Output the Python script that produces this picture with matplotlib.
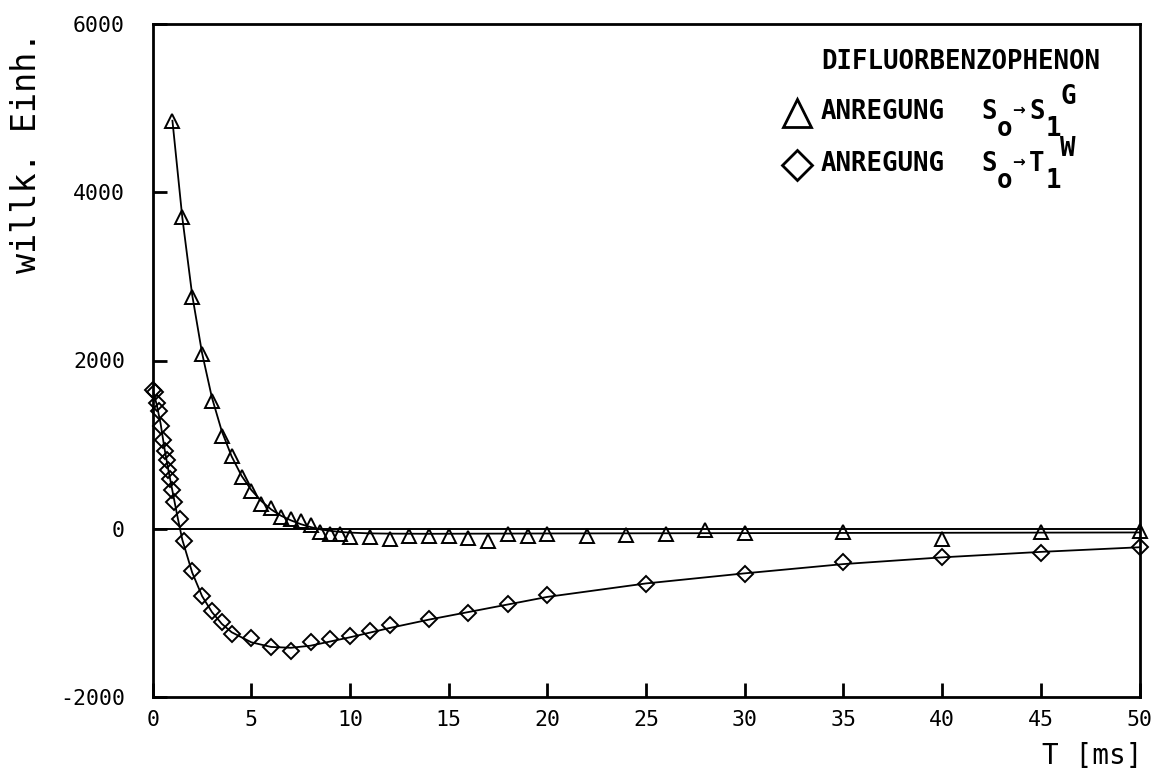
import matplotlib
matplotlib.use("Agg")
import matplotlib.pyplot as plt

# ---------------- data ----------------
# Triangles: excitation S0 -> S1 (G)
t_tri = [1.0, 1.5, 2.0, 2.5, 3.0, 3.5, 4.0, 4.5, 5.0, 5.5, 6.0, 6.5, 7.0, 7.5,
         8.0, 8.5, 9.0, 9.5, 10, 11, 12, 13, 14, 15, 16, 17, 18, 19, 20,
         22, 24, 26, 28, 30, 35, 40, 45, 50]
y_tri = [4850, 3710, 2760, 2075, 1520, 1100, 865, 615, 445, 295, 245, 140,
         110, 90, 50, -40, -65, -65, -100, -100, -125, -86, -86, -86, -105,
         -145, -65, -86, -65, -90, -75, -65, -18, -54, -38, -117, -38, -26]

# fitted curve for triangles
t_tri_fit = [1.0, 1.5, 2.0, 2.5, 3.0, 3.5, 4.0, 4.5, 5.0, 5.5, 6.0, 6.5, 7.0,
             7.5, 8.0, 8.5, 9.0, 9.5, 10, 11, 12, 14, 17, 20, 25, 30, 35, 40,
             45, 50]
y_tri_fit = [4850, 3700, 2780, 2090, 1560, 1160, 860, 630, 460, 330, 230, 155,
             100, 55, 20, -8, -25, -38, -46, -55, -58, -60, -58, -56, -54, -52,
             -50, -48, -46, -44]

# Diamonds: excitation S0 -> T1 (W)
t_dia = [0.0, 0.1, 0.2, 0.3, 0.4, 0.5, 0.6, 0.7, 0.8, 0.9, 1.0, 1.1, 1.4, 1.6,
         2.0, 2.5, 3.0, 3.5, 4.0, 5, 6, 7, 8, 9, 10, 11, 12, 14, 16, 18, 20,
         25, 30, 35, 40, 45, 50]
y_dia = [1650, 1620, 1500, 1400, 1220, 1050, 920, 820, 700, 590, 460, 320,
         110, -150, -500, -800, -980, -1110, -1250, -1300, -1410, -1450,
         -1350, -1310, -1280, -1210, -1140, -1070, -1000, -900, -790, -660,
         -540, -390, -340, -285, -220]

# fitted curve for diamonds
t_dia_fit = [0.0, 0.2, 0.4, 0.6, 0.8, 1.0, 1.25, 1.5, 2.0, 2.5, 3.0, 3.5, 4.0,
             5, 6, 7, 8, 9, 10, 12, 14, 16, 18, 20, 25, 30, 35, 40, 45, 50]
y_dia_fit = [1650, 1480, 1250, 950, 690, 450, 150, -130, -520, -800, -990,
             -1130, -1230, -1350, -1405, -1415, -1390, -1340, -1290, -1180,
             -1080, -990, -900, -810, -650, -530, -420, -340, -275, -220]

x_ticks = [0, 5, 10, 15, 20, 25, 30, 35, 40, 45, 50]
y_ticks = [-2000, 0, 2000, 4000, 6000]

W, H = 1159, 773
MONO = "DejaVu Sans Mono"

fig = plt.figure(figsize=(W / 100, H / 100), dpi=100)
fig.patch.set_facecolor("white")
ax = fig.add_axes([152.7 / W, 1 - 697 / H, (1139.5 - 152.7) / W, (697 - 24) / H])

ax.set_xlim(0, 50)
ax.set_ylim(-2000, 6000)

ax.axhline(0, color="black", lw=1.4, zorder=1)

ax.plot(t_tri_fit, y_tri_fit, color="black", lw=1.3, zorder=2)
ax.plot(t_dia_fit, y_dia_fit, color="black", lw=1.3, zorder=2)

ax.plot(t_tri, y_tri, linestyle="none", marker="^", ms=9.5, mfc="none",
        mec="black", mew=1.4, zorder=3, clip_on=False)
ax.plot(t_dia, y_dia, linestyle="none", marker="D", ms=8.5, mfc="none",
        mec="black", mew=1.4, zorder=3, clip_on=False)

for s in ax.spines.values():
    s.set_linewidth(2.0)

ax.set_xticks(x_ticks)
ax.set_yticks(y_ticks)
ax.set_xticklabels([str(v) for v in x_ticks], fontfamily=MONO, fontsize=15.5)
ax.set_yticklabels([str(v) for v in y_ticks], fontfamily=MONO, fontsize=15.5)
ax.tick_params(which="major", direction="in", length=10, width=2.0,
               top=False, right=False, color="black", pad=9, zorder=5)
ax.tick_params(axis="y", pad=20)


def ptext(x, y, s, **kw):
    fig.text(x / W, 1 - y / H, s, **kw)


ptext(27, 152, "willk. Einh.", rotation=90, ha="center", va="center",
      fontfamily=MONO, fontsize=24)
ptext(1092, 756, "T [ms]", ha="center", va="center", fontfamily=MONO,
      fontsize=20)

# legend
lf = dict(fontfamily=MONO, fontsize=18.5, fontweight="bold", va="center")
ptext(821, 62, "DIFLUORBENZOPHENON", ha="left", **lf)
for yy, s2, sup in [(112, "S", "G"), (164, "T", "W")]:
    ptext(821, yy, "ANREGUNG", ha="left", **lf)
    ptext(981, yy, "S", ha="left", **lf)
    ptext(997, yy + 17, "o", ha="left", **lf)
    ptext(1012, yy - 2, "\u2192", ha="left", fontfamily="DejaVu Sans",
          fontsize=11, fontweight="bold", va="center")
    ptext(1029, yy, s2, ha="left", **lf)
    ptext(1046, yy + 17, "1", ha="left", **lf)
    ptext(1060, yy - 15, sup, ha="left", **lf)

fig.lines.append(plt.Line2D([797 / W], [1 - 113 / H], transform=fig.transFigure,
                            marker="^", ms=20, mfc="none", mec="black", mew=2))
fig.lines.append(plt.Line2D([797 / W], [1 - 165 / H], transform=fig.transFigure,
                            marker="D", ms=15, mfc="none", mec="black", mew=2))

fig.savefig("out.png", dpi=100, facecolor="white")
